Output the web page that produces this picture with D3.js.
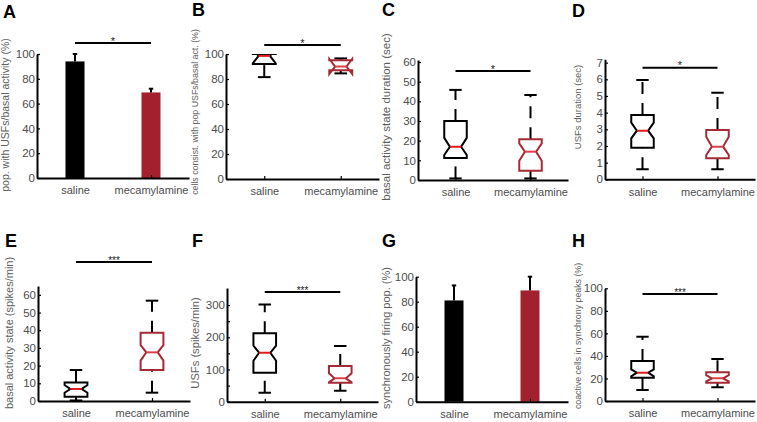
<!DOCTYPE html>
<html><head><meta charset="utf-8">
<script src="https://cdn.jsdelivr.net/npm/d3@7"></script>
<style>
body{margin:0;background:#fff}
svg{display:block}
text{font-family:"Liberation Sans",Arial,sans-serif}
</style>
</head><body>
<svg id="chart" width="757" height="422"></svg>
<script>
// ---------- DATA ----------
const categories = ["saline", "mecamylamine"];

// Bar panels (mean, upper error)
const barsA = [94, 69];
const errA = [6, 3];
const barsG = [81, 89];
const errG = [12, 11];

// Box panels: [lowWhisker, q1, notchLo, median, notchHi, q3, highWhisker]
const boxB = [[81.5, 92, 92.5, 98.5, 104.5, 100, 100], [84.5, 87, 84, 90, 96, 95, 96.5]];
const boxC = [[0.8, 11.2, 12.7, 16.9, 21.4, 30, 45.8], [0.8, 4.7, 9.8, 14.4, 18.6, 20.7, 43.2]];
const boxD = [[0.6, 1.9, 2.46, 2.92, 3.4, 3.86, 5.96], [0.6, 1.26, 1.46, 1.96, 2.56, 2.96, 5.2]];
const boxE = [[0.3, 2.4, 4.7, 6.8, 9, 10.5, 17.5], [4.7, 17.5, 22.8, 27.5, 31.6, 38.6, 56.7]];
const boxF = [[28, 90, 127, 152, 174, 212.5, 302], [34, 59, 60, 72.6, 88, 111, 173]];
const boxH = [[9.8, 20.7, 22, 25.1, 28, 35.5, 57], [12.2, 16.2, 17.5, 20.1, 23, 25.5, 37.3]];

// Tick values
const ticks100 = [0, 20, 40, 60, 80, 100];
const ticksC = [0, 10, 20, 30, 40, 50, 60];
const ticksD = [0, 1, 2, 3, 4, 5, 6, 7];
const ticksE = [0, 10, 20, 30, 40, 50, 60];
const ticksF = [0, 50, 100, 150, 200, 250, 300];
const ticksFLabeled = [0, 100, 200, 300];

// Axis titles and significance marks
const yTitles = {
  A: "pop. with USFs/basal activity (%)",
  B: "cells consist. with pop USFs/basal act. (%)",
  C: "basal activity state duration (sec)",
  D: "USFs duration (sec)",
  E: "basal activity state (spikes/min)",
  F: "USFs (spikes/min)",
  G: "synchronously firing pop. (%)",
  H: "coactive cells in synchrony peaks (%)"
};
const sigMarks = {A: "*", B: "*", C: "*", D: "*", E: "***", F: "***", H: "***"};

// ---------- STYLE ----------
const BLACK = "#000";
const MEC = "#a3202f";
const MEC_BOX = "#a52a36";
const MED_SAL = "#e01b1b";
const MED_MEC = "#d8404a";
const GRAY = "#4d4d4d";

const svg = d3.select("#chart");

// ---------- LAYOUT ----------
const panels = [
  {id: "A", type: "bar", vals: barsA, errs: errA, left: 37, right: 189, bottom: 178, top: 54, dom: [0, 100], ticks: ticks100,
   letter: [3, 18], title: [9, 115, 10.5], sigY: 43},
  {id: "B", type: "box", vals: boxB, left: 226, right: 379, bottom: 179, top: 54, dom: [0, 100], ticks: ticks100,
   letter: [192, 16], title: [198, 112, 8.8], sigY: 45},
  {id: "C", type: "box", vals: boxC, left: 418, right: 568, bottom: 180, top: 60, dom: [0, 61], ticks: ticksC,
   letter: [382, 16], title: [390, 117, 11.5], sigY: 71},
  {id: "D", type: "box", vals: boxD, left: 605, right: 755, bottom: 179.3, top: 59.3, dom: [0, 7.2], ticks: ticksD,
   letter: [572, 17], title: [581, 107, 9.5], sigY: 67.7},
  {id: "E", type: "box", vals: boxE, left: 38, right: 190, bottom: 401, top: 286, dom: [0, 65], ticks: ticksE,
   letter: [5, 247], title: [13, 333, 11], sigY: 262},
  {id: "F", type: "box", vals: boxF, left: 227, right: 378, bottom: 401.7, top: 288, dom: [0, 353], ticks: ticksF, labeled: ticksFLabeled,
   letter: [192, 247], title: [199, 343, 11.2], sigY: 292},
  {id: "G", type: "bar", vals: barsG, errs: errG, left: 416, right: 568, bottom: 401.7, top: 276.7, dom: [0, 100], ticks: ticks100,
   letter: [382, 247], title: [390, 338, 11], sigY: null},
  {id: "H", type: "box", vals: boxH, left: 605, right: 755, bottom: 401, top: 288.3, dom: [0, 100], ticks: ticks100,
   letter: [572, 247], title: [581, 336, 8.8], sigY: 294}
];

panels.forEach(p => {
  const g = svg.append("g");
  const x = d3.scaleLinear().domain([0.5, 2.5]).range([p.left, p.right]);
  const y = d3.scaleLinear().domain(p.dom).range([p.bottom, p.top]);

  const clipId = "clip" + p.id;
  svg.append("clipPath").attr("id", clipId).append("rect")
    .attr("x", p.left).attr("y", p.top).attr("width", p.right - p.left).attr("height", p.bottom - p.top + 2);
  const plot = g.append("g").attr("clip-path", `url(#${clipId})`);

  if (p.type === "bar") {
    const bw = x(1.25) - x(1);
    plot.selectAll("rect.bar").data(p.vals).join("rect")
      .attr("x", (d, i) => x(i + 1) - bw / 2)
      .attr("y", d => y(d))
      .attr("width", bw)
      .attr("height", d => y(0) - y(d))
      .attr("fill", (d, i) => i === 0 ? BLACK : MEC);
    p.vals.forEach((v, i) => {
      const cx = x(i + 1);
      g.append("line").attr("x1", cx).attr("x2", cx).attr("y1", y(v)).attr("y2", y(v + p.errs[i]))
        .attr("stroke", BLACK).attr("stroke-width", 2);
      g.append("line").attr("x1", cx - 2.2).attr("x2", cx + 2.2).attr("y1", y(v + p.errs[i])).attr("y2", y(v + p.errs[i]))
        .attr("stroke", BLACK).attr("stroke-width", 2);
    });
  } else {
    const w = x(1.15) - x(0.85);
    const capW = w * 0.55;
    p.vals.forEach((s, i) => {
      const [lo, q1, nlo, med, nhi, q3, hi] = s;
      const cx = x(i + 1);
      const xL = cx - w / 2, xR = cx + w / 2, xLi = cx - w / 4, xRi = cx + w / 4;
      const col = i === 0 ? BLACK : MEC_BOX;
      // whiskers (dashed), drawn from the lower end upward
      plot.append("line").attr("x1", cx).attr("x2", cx).attr("y1", y(q3)).attr("y2", y(hi))
        .attr("stroke", BLACK).attr("stroke-width", 2).attr("stroke-dasharray", "12,9");
      plot.append("line").attr("x1", cx).attr("x2", cx).attr("y1", y(lo)).attr("y2", y(q1))
        .attr("stroke", BLACK).attr("stroke-width", 2).attr("stroke-dasharray", "12,9");
      plot.append("line").attr("x1", cx - capW / 2).attr("x2", cx + capW / 2).attr("y1", y(hi)).attr("y2", y(hi))
        .attr("stroke", BLACK).attr("stroke-width", 2);
      plot.append("line").attr("x1", cx - capW / 2).attr("x2", cx + capW / 2).attr("y1", y(lo)).attr("y2", y(lo))
        .attr("stroke", BLACK).attr("stroke-width", 2);
      // notched box
      const pts = [[xL, q1], [xL, nlo], [xLi, med], [xL, nhi], [xL, q3], [xR, q3], [xR, nhi], [xRi, med], [xR, nlo], [xR, q1]];
      plot.append("path")
        .attr("d", d3.line().x(d => d[0]).y(d => y(d[1]))(pts) + "Z")
        .attr("fill", "#fff").attr("stroke", col).attr("stroke-width", 2).attr("stroke-linejoin", "miter");
      plot.append("line").attr("x1", xLi).attr("x2", xRi).attr("y1", y(med)).attr("y2", y(med))
        .attr("stroke", i === 0 ? MED_SAL : MED_MEC).attr("stroke-width", 2);
    });
  }

  // y axis
  const yAxis = d3.axisLeft(y).tickValues(p.ticks)
    .tickFormat(d => (!p.labeled || p.labeled.includes(d)) ? d : "")
    .tickSizeInner(-3).tickSizeOuter(0).tickPadding(2);
  const ya = g.append("g").attr("transform", `translate(${p.left},0)`).call(yAxis);
  ya.attr("color", BLACK);
  ya.select(".domain").attr("stroke", BLACK).attr("stroke-width", 2);
  ya.selectAll(".tick line").attr("stroke", BLACK).attr("stroke-width", 1.2);
  ya.selectAll(".tick text").attr("fill", GRAY).attr("font-size", 11.5).attr("font-family", "Liberation Sans, Arial, sans-serif");

  // x axis
  const xAxis = d3.axisBottom(x).tickValues([1, 2]).tickFormat((d, i) => categories[i])
    .tickSizeInner(-3).tickSizeOuter(0).tickPadding(8.5);
  const xa = g.append("g").attr("transform", `translate(0,${p.bottom})`).call(xAxis);
  xa.attr("color", BLACK);
  xa.select(".domain").attr("stroke", BLACK).attr("stroke-width", 2);
  xa.selectAll(".tick line").attr("stroke", BLACK).attr("stroke-width", 1.2);
  xa.selectAll(".tick text").attr("fill", GRAY).attr("font-size", 11).attr("font-family", "Liberation Sans, Arial, sans-serif");

  // y title
  g.append("text")
    .attr("transform", `translate(${p.title[0]},${p.title[1]}) rotate(-90)`)
    .attr("text-anchor", "middle").attr("font-size", p.title[2]).attr("fill", "#5e5e5e")
    .text(yTitles[p.id]);

  // panel letter
  g.append("text").attr("x", p.letter[0]).attr("y", p.letter[1])
    .attr("font-size", 18).attr("font-weight", "bold").attr("fill", BLACK).text(p.id);

  // significance bar
  if (p.sigY !== null) {
    const x1 = x(1), x2 = x(2);
    g.append("line").attr("x1", x1).attr("x2", x2).attr("y1", p.sigY).attr("y2", p.sigY)
      .attr("stroke", BLACK).attr("stroke-width", 2);
    g.append("text").attr("x", (x1 + x2) / 2).attr("y", p.sigY + 1.5)
      .attr("text-anchor", "middle").attr("font-size", sigMarks[p.id].length > 1 ? 10 : 11)
      .attr("fill", "#222").text(sigMarks[p.id]);
  }
});
</script>
</body></html>
